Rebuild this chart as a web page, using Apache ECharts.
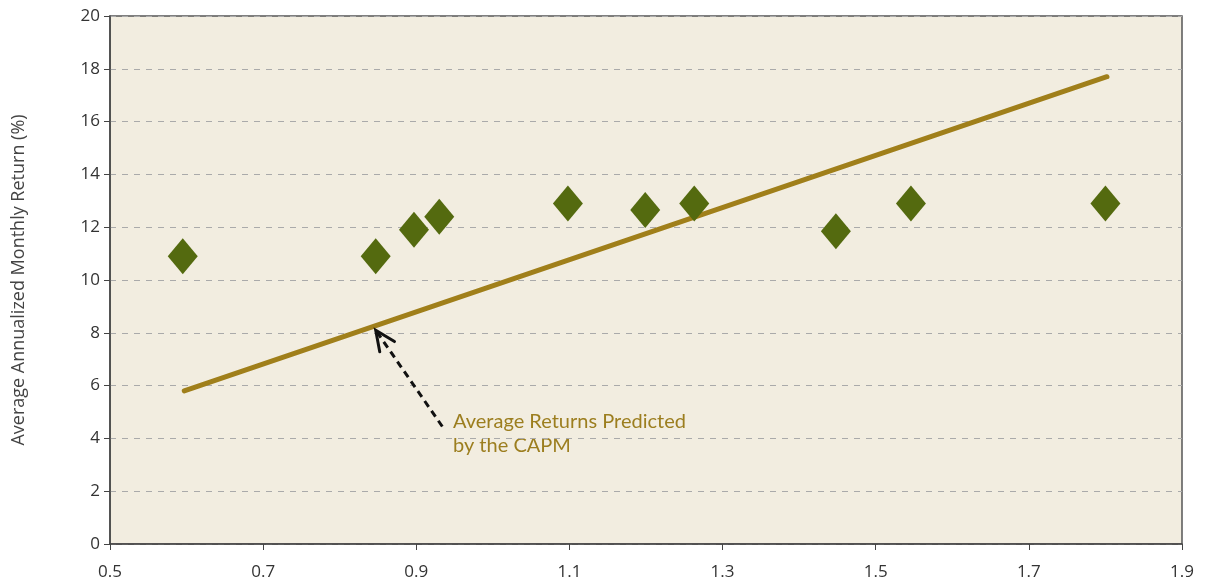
<!DOCTYPE html>
<html>
<head>
<meta charset="utf-8">
<script src="https://cdn.jsdelivr.net/npm/echarts@6/dist/echarts.min.js"></script>
<style>
html,body{margin:0;padding:0;background:#fff;}
#chart{width:1210px;height:584px;}
</style>
</head>
<body>
<div id="chart"></div>
<script>
// Data
const betas = [0.595, 0.847, 0.897, 0.930, 1.098, 1.199, 1.263, 1.448, 1.546, 1.800];
const returns = [10.9, 10.9, 11.9, 12.4, 12.9, 12.65, 12.9, 11.85, 12.9, 12.9];
const capmX = [0.597, 1.802];
const capmY = [5.8, 17.7];
const arrowFrom = [0.934, 4.45];
const arrowTo = [0.847, 8.1];
const annotationText = 'Average Returns Predicted\nby the CAPM';
const xTicks = [0.5, 0.7, 0.9, 1.1, 1.3, 1.5, 1.7, 1.9];
const yLabel = 'Average Annualized Monthly Return (%)';

const chart = echarts.init(document.getElementById('chart'));
const font = 'Open Sans';
const option = {
  animation: false,
  backgroundColor: '#ffffff',
  grid: {
    left: 110, right: 28, top: 16, bottom: 40,
    show: true, backgroundColor: '#f2ede0', borderColor: '#555', borderWidth: 1.5
  },
  xAxis: {
    type: 'value', min: 0.5, max: 1.9, interval: 0.2,
    axisLine: {lineStyle: {color: '#444', width: 1.5}},
    axisTick: {show: true, length: 6, lineStyle: {color: '#444'}},
    axisLabel: {color: '#333', fontSize: 17, fontFamily: font, margin: 20,
      formatter: v => { const t = xTicks.find(k => Math.abs(k - v) < 1e-6); return t === undefined ? '' : t.toFixed(1); }},
    splitLine: {show: false}
  },
  yAxis: {
    type: 'value', min: 0, max: 20, interval: 2,
    name: yLabel, nameLocation: 'middle', nameGap: 82, nameRotate: 90,
    nameTextStyle: {color: '#444', fontSize: 18, fontFamily: font},
    axisLine: {show: true, lineStyle: {color: '#444', width: 1.5}},
    axisTick: {show: true, length: 6, lineStyle: {color: '#444'}},
    axisLabel: {color: '#333', fontSize: 17, fontFamily: font, margin: 10},
    splitLine: {show: true, lineStyle: {color: '#aaa', type: [6, 6], width: 1}}
  },
  series: [
    {
      type: 'line',
      data: capmX.map((x, i) => [x, capmY[i]]),
      showSymbol: false, symbol: 'none',
      lineStyle: {color: '#a07f1a', width: 5, cap: 'round'},
      z: 3
    },
    {
      type: 'scatter',
      data: betas.map((x, i) => [x, returns[i]]),
      symbol: 'diamond', symbolSize: [30, 36],
      itemStyle: {color: '#546a0f', opacity: 1},
      z: 4
    },
    {
      type: 'custom',
      data: [[arrowFrom[0], arrowFrom[1], arrowTo[0], arrowTo[1]]],
      renderItem: function (params, api) {
        const p0 = api.coord([api.value(0), api.value(1)]);
        const p1 = api.coord([api.value(2), api.value(3)]);
        const dx = p1[0] - p0[0], dy = p1[1] - p0[1];
        const len = Math.sqrt(dx * dx + dy * dy);
        const ux = dx / len, uy = dy / len;
        const hl = 22, ang = 0.42;
        const c = Math.cos(ang), s = Math.sin(ang);
        const a1 = [p1[0] - hl * (ux * c - uy * s), p1[1] - hl * (uy * c + ux * s)];
        const a2 = [p1[0] - hl * (ux * c + uy * s), p1[1] - hl * (uy * c - ux * s)];
        const style = {stroke: '#111', lineWidth: 3, lineCap: 'round'};
        return {
          type: 'group',
          children: [
            {type: 'line', shape: {x1: p0[0], y1: p0[1], x2: p1[0] - ux * 2, y2: p1[1] - uy * 2},
              style: Object.assign({}, style, {lineDash: [7, 5], lineCap: 'butt'})},
            {type: 'polyline', shape: {points: [a1, p1, a2]}, style: Object.assign({fill: null}, style)}
          ]
        };
      },
      z: 5
    }
  ],
  graphic: [
    {
      type: 'text', left: 453, top: 410,
      style: {text: annotationText, fill: '#9c7e1f', fontSize: 20, fontFamily: 'Lato', lineHeight: 24}
    }
  ]
};
chart.setOption(option);
</script>
</body>
</html>
